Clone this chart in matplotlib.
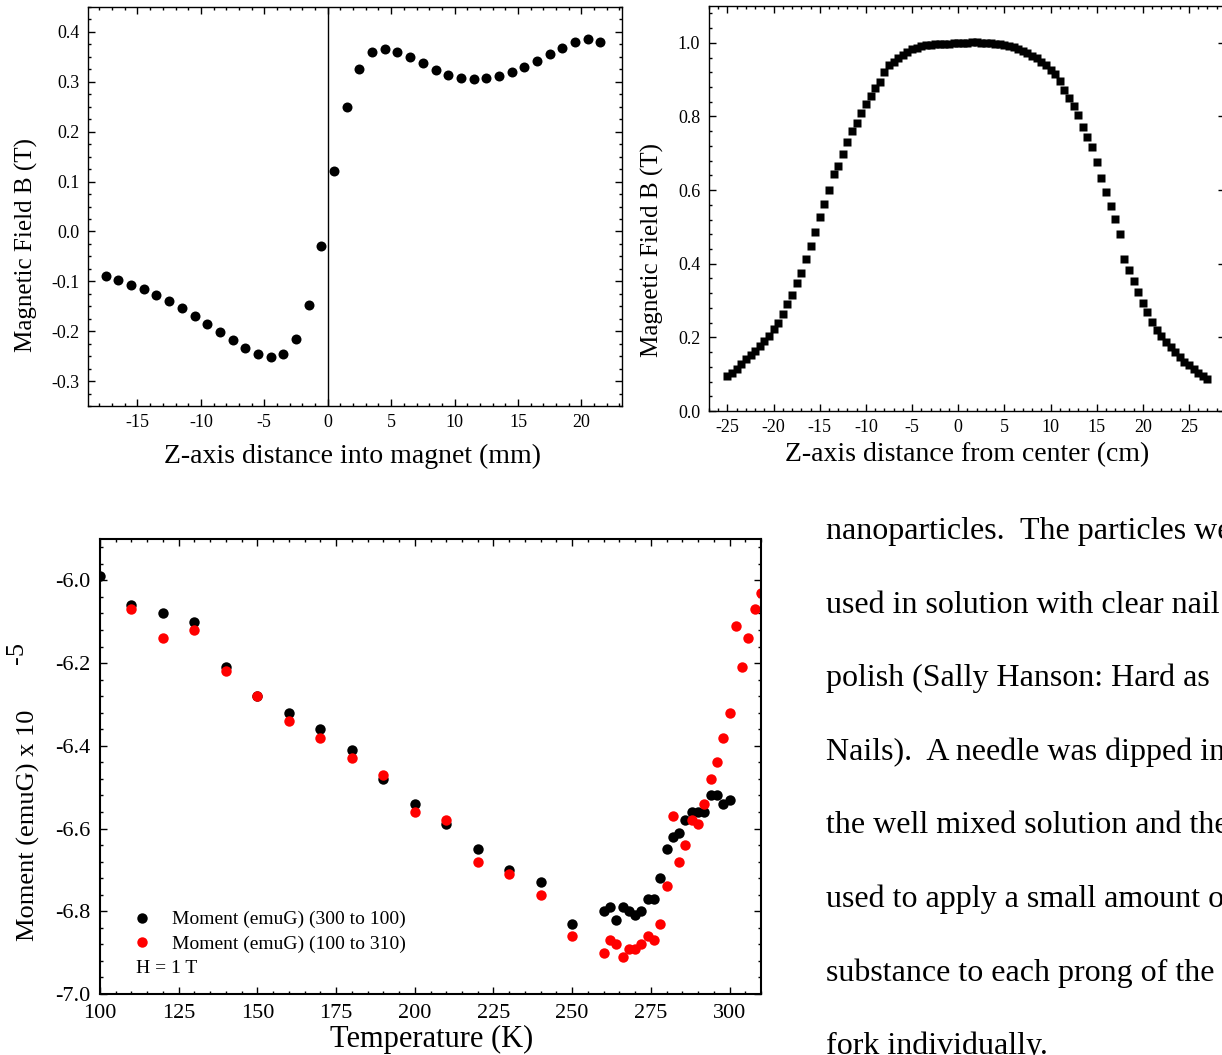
import numpy as np
import matplotlib
matplotlib.use("Agg")
import matplotlib.pyplot as plt
from matplotlib.ticker import MultipleLocator, AutoMinorLocator, FormatStrFormatter

# ---- data ----
# top left: field vs. distance into magnet
Z_MM = [-17.5, -16.5, -15.5, -14.5, -13.5, -12.5, -11.5, -10.5, -9.5, -8.5,
        -7.5, -6.5, -5.5, -4.5, -3.5, -2.5, -1.5, -0.5, 0.5, 1.5,
        2.5, 3.5, 4.5, 5.5, 6.5, 7.5, 8.5, 9.5, 10.5, 11.5,
        12.5, 13.5, 14.5, 15.5, 16.5, 17.5, 18.5, 19.5, 20.5, 21.5]
B_MM = [-0.089, -0.097, -0.107, -0.116, -0.128, -0.140, -0.154, -0.169, -0.185, -0.202,
        -0.218, -0.234, -0.246, -0.252, -0.245, -0.215, -0.147, -0.030, 0.122, 0.250,
        0.326, 0.359, 0.366, 0.359, 0.349, 0.337, 0.324, 0.313, 0.308, 0.305,
        0.307, 0.311, 0.319, 0.329, 0.341, 0.355, 0.367, 0.379, 0.386, 0.379]

# top right: field vs. distance from center
Z_CM = [-25, -24.5, -24, -23.5, -23, -22.5, -22, -21.5, -21, -20.5,
        -20, -19.5, -19, -18.5, -18, -17.5, -17, -16.5, -16, -15.5,
        -15, -14.5, -14, -13.5, -13, -12.5, -12, -11.5, -11, -10.5,
        -10, -9.5, -9, -8.5, -8, -7.5, -7, -6.5, -6, -5.5,
        -5, -4.5, -4, -3.5, -3, -2.5, -2, -1.5, -1, -0.5,
        0, 0.5, 1, 1.5, 2, 2.5, 3, 3.5, 4, 4.5,
        5, 5.5, 6, 6.5, 7, 7.5, 8, 8.5, 9, 9.5,
        10, 10.5, 11, 11.5, 12, 12.5, 13, 13.5, 14, 14.5,
        15, 15.5, 16, 16.5, 17, 17.5, 18, 18.5, 19, 19.5,
        20, 20.5, 21, 21.5, 22, 22.5, 23, 23.5, 24, 24.5,
        25, 25.5, 26, 26.5, 27]
B_CM = [0.095, 0.102, 0.115, 0.128, 0.140, 0.152, 0.162, 0.176, 0.190, 0.203,
        0.224, 0.239, 0.264, 0.290, 0.315, 0.347, 0.375, 0.412, 0.447, 0.487,
        0.526, 0.562, 0.600, 0.643, 0.665, 0.698, 0.731, 0.761, 0.782, 0.810,
        0.835, 0.855, 0.878, 0.893, 0.920, 0.939, 0.949, 0.959, 0.968, 0.976,
        0.983, 0.987, 0.991, 0.994, 0.995, 0.996, 0.997, 0.998, 0.998, 0.999,
        0.999, 1.000, 1.000, 1.001, 1.001, 1.000, 1.000, 0.999, 0.998, 0.996,
        0.995, 0.992, 0.988, 0.984, 0.978, 0.972, 0.965, 0.958, 0.949, 0.939,
        0.927, 0.914, 0.895, 0.871, 0.851, 0.829, 0.803, 0.771, 0.745, 0.718,
        0.676, 0.632, 0.596, 0.557, 0.522, 0.481, 0.413, 0.384, 0.352, 0.322,
        0.293, 0.268, 0.241, 0.221, 0.205, 0.188, 0.173, 0.160, 0.147, 0.134,
        0.124, 0.113, 0.104, 0.095, 0.088]

# bottom: moment vs. temperature
T_DOWN = [100, 110, 120, 130, 140, 150, 160, 170, 180, 190, 200, 210, 220, 230, 240, 250,
          260, 262, 264, 266, 268, 270, 272, 274, 276, 278, 280, 282, 284, 286, 288,
          290, 292, 294, 296, 298, 300]
M_DOWN = [-5.99, -6.06, -6.08, -6.10, -6.21, -6.28, -6.32, -6.36, -6.41, -6.48, -6.54, -6.59,
          -6.65, -6.70, -6.73, -6.83,
          -6.80, -6.79, -6.82, -6.79, -6.80, -6.81, -6.80, -6.77, -6.77, -6.72, -6.65, -6.62,
          -6.61, -6.58, -6.56, -6.56, -6.56, -6.52, -6.52, -6.54, -6.53]
T_UP = [110, 120, 130, 140, 150, 160, 170, 180, 190, 200, 210, 220, 230, 240, 250,
        260, 262, 264, 266, 268, 270, 272, 274, 276, 278, 280, 282, 284, 286, 288,
        290, 292, 294, 296, 298, 300, 302, 304, 306, 308, 310]
M_UP = [-6.07, -6.14, -6.12, -6.22, -6.28, -6.34, -6.38, -6.43, -6.47, -6.56, -6.58, -6.68,
        -6.71, -6.76, -6.86,
        -6.90, -6.87, -6.88, -6.91, -6.89, -6.89, -6.88, -6.86, -6.87, -6.83, -6.74, -6.57,
        -6.68, -6.64, -6.58, -6.59, -6.54, -6.48, -6.44, -6.38, -6.32, -6.11, -6.21, -6.14,
        -6.07, -6.03]

# paragraph beside the bottom chart, as far as it is visible
TEXT_LINES = [
    "nanoparticles.  The particles we",
    "used in solution with clear nail",
    "polish (Sally Hanson: Hard as",
    "Nails).  A needle was dipped in",
    "the well mixed solution and the",
    "used to apply a small amount o",
    "substance to each prong of the",
    "fork individually.",
]
# ----------------------------------

plt.rcParams.update({"font.family": ["Liberation Serif", "DejaVu Serif"],
                     "axes.unicode_minus": False})

W, H = 1222, 1055
fig = plt.figure(figsize=(W / 100, H / 100), dpi=100)


def px_axes(l, t, r, b):
    return fig.add_axes([l / W, 1 - b / H, (r - l) / W, (b - t) / H])


def fig_text(x, y, s, **kw):
    fig.text(x / W, 1 - y / H, s, **kw)


def style(ax, xmaj, ymaj, xminor, yminor, yfmt, fs, lw, pad):
    ax.xaxis.set_major_locator(MultipleLocator(xmaj))
    ax.yaxis.set_major_locator(MultipleLocator(ymaj))
    ax.xaxis.set_minor_locator(AutoMinorLocator(xminor))
    ax.yaxis.set_minor_locator(AutoMinorLocator(yminor))
    ax.xaxis.set_major_formatter(FormatStrFormatter("%d"))
    ax.yaxis.set_major_formatter(FormatStrFormatter(yfmt))
    ax.tick_params(which="both", direction="in", top=True, right=True,
                   labelsize=fs, width=1.0, pad=pad)
    ax.tick_params(which="major", length=5)
    ax.tick_params(which="minor", length=2.5)
    for s in ax.spines.values():
        s.set_linewidth(lw)


# top left
ax1 = px_axes(88, 7, 622, 406)
ax1.plot(Z_MM, B_MM, "o", color="black", ms=7.2, mec="none")
ax1.axvline(0, color="black", lw=1.0)
ax1.set_xlim(-18.9, 23.2)
ax1.set_ylim(-0.35, 0.45)
style(ax1, 5, 0.1, 5, 4, "%.1f", 13, 1.0, 6)
fig_text(26, 245, "Magnetic Field B (T)", rotation=90, ha="center", va="center", size=18)
fig_text(353, 456, "Z-axis distance into magnet (mm)", ha="center", va="center", size=20)

# top right
ax2 = px_axes(708.5, 6, 1225, 411)
ax2.plot(Z_CM, B_CM, "s", color="black", ms=6.3, mec="none")
ax2.set_xlim(-27.05, 28.9)
ax2.set_ylim(0, 1.1)
style(ax2, 5, 0.2, 5, 5, "%.1f", 13, 1.0, 6)
fig_text(652, 250, "Magnetic Field B (T)", rotation=90, ha="center", va="center", size=18)
fig_text(967, 455, "Z-axis distance from center (cm)", ha="center", va="center", size=20)

# bottom
ax3 = px_axes(100, 539, 761, 994)
ax3.plot(T_DOWN, M_DOWN, "o", color="black", ms=7.5, mec="none",
         label="Moment (emuG) (300 to 100)")
ax3.plot(T_UP, M_UP, "o", color="#ff0000", ms=7.5, mec="none",
         label="Moment (emuG) (100 to 310)")
ax3.set_xlim(100, 310)
ax3.set_ylim(-7.0, -5.9)
style(ax3, 25, 0.2, 5, 5, "%.1f", 16, 1.5, 7)
ax3.legend(loc="upper left", bbox_to_anchor=(0.0484, 0.183), frameon=False,
           borderpad=0, borderaxespad=0, handlelength=1.0, handletextpad=1.05,
           labelspacing=0.36, numpoints=1, fontsize=14)
ax3.text(0.0545, 0.057, "H = 1 T", transform=ax3.transAxes, ha="left", va="center", size=14)
fig_text(28, 825, "Moment (emuG) x 10", rotation=90, ha="center", va="center", size=19)
fig_text(17, 653, "-5", rotation=90, ha="center", va="center", size=19)
fig_text(432, 1039, "Temperature (K)", ha="center", va="center", size=22)

# paragraph text on the right
for i, line in enumerate(TEXT_LINES):
    fig_text(826, 539 + i * 73.6, line, ha="left", va="baseline", size=23)

fig.savefig("out.png", dpi=100)
